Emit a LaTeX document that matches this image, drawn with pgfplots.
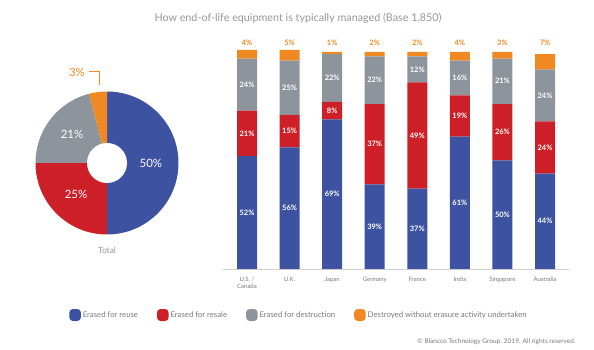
\documentclass[border=0pt]{standalone}
\usepackage{pgfplots}
\pgfplotsset{compat=1.18}
\usepackage{pgfplotstable}
\usepackage{fontspec}
\setmainfont{Lato}
\definecolor{reuse}{RGB}{61,82,160}
\definecolor{resale}{RGB}{204,31,39}
\definecolor{destr}{RGB}{142,148,156}
\definecolor{dwo}{RGB}{240,137,34}
\definecolor{txtgray}{RGB}{120,120,126}
\definecolor{titlegray}{RGB}{150,150,155}
\definecolor{axisgray}{RGB}{205,205,208}

\pgfplotstableread{
x reuse resale destruction destroyed
0 52 21 24 4
1 56 15 25 5
2 69 8 22 1
3 39 37 22 2
4 37 49 12 2
5 61 19 16 4
6 50 26 21 3
7 44 24 24 7
}\bardata
% label positions (middle of each segment; top labels above the bars)
\pgfplotstablecreatecol[create col/expr={\thisrow{reuse}/2}]{mreuse}{\bardata}
\pgfplotstablecreatecol[create col/expr={\thisrow{reuse}+\thisrow{resale}/2}]{mresale}{\bardata}
\pgfplotstablecreatecol[create col/expr={\thisrow{reuse}+\thisrow{resale}+\thisrow{destruction}/2}]{mdestr}{\bardata}
\pgfplotstablecreatecol[create col/expr={104.1}]{mtop}{\bardata}

\pgfplotsset{
  mylegend/.style={legend image code/.code={\fill[##1, draw=none, rounded corners=3.5bp] (0bp,-6bp) rectangle (11.5bp,6bp);}},
  seglabel/.style={
    draw=none, mark=none,
    point meta=explicit symbolic,
    nodes near coords={\pgfplotspointmeta\%},
    every node near coord/.style={anchor=center, inner sep=0pt, text=#1,
      font=\bfseries\fontsize{7.5}{8}\selectfont},
  },
  baraxis/.style={
    at={(223bp,81bp)}, anchor=south west,
    width=346bp, height=217bp, scale only axis,
    xmin=-0.564, xmax=7.564, ymin=0, ymax=100,
    clip=false,
  },
}

\begin{document}
\begin{tikzpicture}
\useasboundingbox (0,0) rectangle (594bp,350bp);
\node[text=titlegray, font=\fontsize{10.8}{12}\selectfont] at (298bp,332bp) {How end-of-life equipment is typically managed (Base 1,850)};

\begin{axis}[
  baraxis,
  ybar stacked, bar width=20bp,
  axis x line=bottom, axis y line=none,
  axis line style={-, draw=axisgray, line width=0.8bp},
  xtick=data,
  xticklabels={{U.S. /\\Canada},U.K.,Japan,Germany,France,India,Singapore,Australia},
  xticklabel style={align=center, font=\fontsize{6}{7}\selectfont, text=txtgray, yshift=-4.5bp},
  major tick length=0pt,
  legend style={at={(0.2197,-0.212)}, anchor=center, draw=none, fill=none,
    font=\fontsize{7.8}{9}\selectfont, text=txtgray, legend columns=4,
    /tikz/every even column/.append style={column sep=17bp}},
]
\addplot[fill=reuse, draw=none, mylegend] table[x=x, y=reuse] {\bardata};
\addplot[fill=resale, draw=none, mylegend] table[x=x, y=resale] {\bardata};
\addplot[fill=destr, draw=none, mylegend] table[x=x, y=destruction] {\bardata};
\addplot[fill=dwo, draw=none, mylegend] table[x=x, y=destroyed] {\bardata};
\legend{Erased for reuse, Erased for resale, Erased for destruction, Destroyed without erasure activity undertaken}
\end{axis}

\begin{axis}[baraxis, hide axis]
\addplot[seglabel=white] table[x=x, y=mreuse, meta=reuse] {\bardata};
\addplot[seglabel=white] table[x=x, y=mresale, meta=resale] {\bardata};
\addplot[seglabel=white] table[x=x, y=mdestr, meta=destruction] {\bardata};
\addplot[seglabel=dwo] table[x=x, y=mtop, meta=destroyed] {\bardata};
\end{axis}

\begin{axis}[
  at={(107bp,187bp)}, anchor=center,
  width=144bp, height=144bp, scale only axis,
  xmin=-1, xmax=1, ymin=-1, ymax=1,
  hide axis, clip=false,
]
% slices: 50, 25, 21, remainder (3)
\addplot[fill=reuse, draw=none, domain=-90:90, samples=91] ({0.993*cos(x)},{0.993*sin(x)}) -- (axis cs:0,0) -- cycle;
\addplot[fill=resale, draw=none, domain=-180:-90, samples=46] ({0.993*cos(x)},{0.993*sin(x)}) -- (axis cs:0,0) -- cycle;
\addplot[fill=destr, draw=none, domain=-255.6:-180, samples=40] ({0.993*cos(x)},{0.993*sin(x)}) -- (axis cs:0,0) -- cycle;
\addplot[fill=dwo, draw=none, domain=-270:-255.6, samples=10] ({0.993*cos(x)},{0.993*sin(x)}) -- (axis cs:0,0) -- cycle;
\fill[white] (axis cs:0,0) circle[radius=20bp];
\addplot[dwo, line width=0.7bp] coordinates {(-0.25,1.278) (-0.111,1.278) (-0.111,1.083)};
\node[text=white, font=\fontsize{11.5}{13}\selectfont] at (axis cs:0.61,0) {50\%};
\node[text=white, font=\fontsize{11.5}{13}\selectfont] at (axis cs:-0.43,-0.43) {25\%};
\node[text=white, font=\fontsize{11.5}{13}\selectfont] at (axis cs:-0.486,0.403) {21\%};
\node[text=dwo, font=\fontsize{11.5}{13}\selectfont] at (axis cs:-0.417,1.264) {3\%};
\node[text=titlegray, font=\fontsize{8.5}{10}\selectfont] at (axis cs:0,-1.208) {Total};
\end{axis}

\node[anchor=east, text=txtgray, font=\fontsize{6.5}{8}\selectfont] at (579bp,8bp) {© Blancco Technology Group. 2019. All rights reserved.};
\end{tikzpicture}
\end{document}
